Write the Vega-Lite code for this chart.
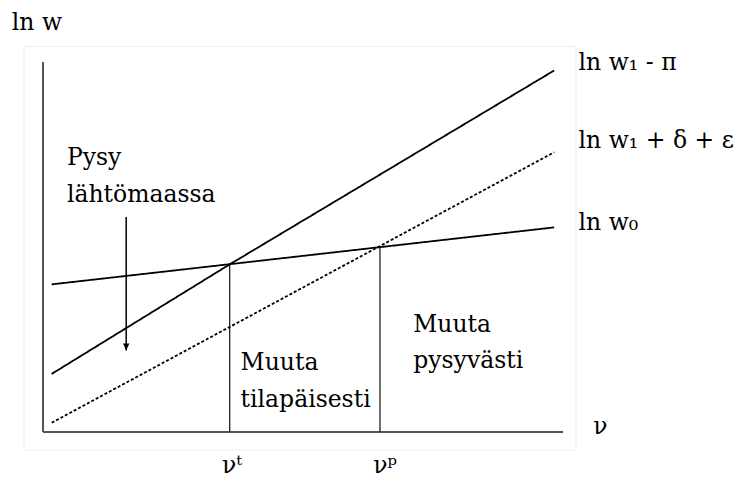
{
  "$schema": "https://vega.github.io/schema/vega-lite/v6.json",
  "width": 520,
  "height": 370,
  "autosize": {"type": "none"},
  "padding": {"left": 43, "top": 62, "right": 175, "bottom": 46},
  "background": "white",
  "config": {"view": {"stroke": null}},
  "datasets": {
    "frame": [{"x": -0.365, "y": -0.49, "x2": 10.25, "y2": 10.42}],
    "axes": [
      {"x": 0, "y": 0, "x2": 0, "y2": 10},
      {"x": 0, "y": 0, "x2": 10, "y2": 0}
    ],
    "drops": [
      {"x": 3.59, "y": 0, "y2": 4.53},
      {"x": 6.48, "y": 0, "y2": 4.99}
    ],
    "curves": [
      {"series": "ln w1 - pi", "x": 0.167, "y": 1.57},
      {"series": "ln w1 - pi", "x": 3.59, "y": 4.53},
      {"series": "ln w1 - pi", "x": 9.83, "y": 9.77},
      {"series": "ln w0", "x": 0.167, "y": 3.99},
      {"series": "ln w0", "x": 9.83, "y": 5.53},
      {"series": "ln w1 + delta + epsilon", "x": 0.167, "y": 0.25},
      {"series": "ln w1 + delta + epsilon", "x": 9.83, "y": 7.56}
    ],
    "arrow": [{"x": 1.6, "y": 5.81, "y2": 2.2}],
    "labels": [
      {"text": "ln w", "x": -0.6, "y": 10.87},
      {"text": "Pysy", "x": 0.46, "y": 7.22},
      {"text": "lähtömaassa", "x": 0.46, "y": 6.22},
      {"text": "Muuta", "x": 3.8, "y": 1.68},
      {"text": "tilapäisesti", "x": 3.8, "y": 0.68},
      {"text": "Muuta", "x": 7.12, "y": 2.71},
      {"text": "pysyvästi", "x": 7.12, "y": 1.72},
      {"text": "ν", "x": 10.58, "y": -0.05},
      {"text": "νᵗ", "x": 3.44, "y": -1.11},
      {"text": "νᵖ", "x": 6.35, "y": -1.11},
      {"text": "ln w₁ - π", "x": 10.3, "y": 9.78},
      {"text": "ln w₁ + δ + ε", "x": 10.3, "y": 7.67},
      {"text": "ln w₀", "x": 10.3, "y": 5.46}
    ]
  },
  "layer": [
    {
      "data": {"name": "frame"},
      "mark": {"type": "rect", "fill": null, "stroke": "#efefef", "strokeWidth": 1},
      "encoding": {
        "x": {"field": "x", "type": "quantitative", "scale": {"domain": [0, 10], "nice": false, "zero": false}, "axis": null},
        "y": {"field": "y", "type": "quantitative", "scale": {"domain": [0, 10], "nice": false, "zero": false}, "axis": null},
        "x2": {"field": "x2"},
        "y2": {"field": "y2"}
      }
    },
    {
      "data": {"name": "axes"},
      "mark": {"type": "rule", "color": "#555555", "strokeWidth": 2},
      "encoding": {
        "x": {"field": "x", "type": "quantitative"},
        "y": {"field": "y", "type": "quantitative"},
        "x2": {"field": "x2"},
        "y2": {"field": "y2"}
      }
    },
    {
      "data": {"name": "drops"},
      "mark": {"type": "rule", "color": "#222222", "strokeWidth": 1.3},
      "encoding": {
        "x": {"field": "x", "type": "quantitative"},
        "y": {"field": "y", "type": "quantitative"},
        "y2": {"field": "y2"}
      }
    },
    {
      "data": {"name": "curves"},
      "mark": {"type": "line", "color": "black", "strokeWidth": 1.8},
      "encoding": {
        "x": {"field": "x", "type": "quantitative"},
        "y": {"field": "y", "type": "quantitative"},
        "detail": {"field": "series"},
        "strokeDash": {
          "field": "series",
          "type": "nominal",
          "scale": {"domain": ["ln w1 - pi", "ln w0", "ln w1 + delta + epsilon"], "range": [[1, 0], [1, 0], [3, 2]]},
          "legend": null
        }
      }
    },
    {
      "data": {"name": "arrow"},
      "mark": {"type": "rule", "color": "black", "strokeWidth": 1.5},
      "encoding": {
        "x": {"field": "x", "type": "quantitative"},
        "y": {"field": "y", "type": "quantitative"},
        "y2": {"field": "y2"}
      }
    },
    {
      "data": {"name": "arrow"},
      "mark": {"type": "point", "shape": "M-0.45,-1L0.45,-1L0,0Z", "filled": true, "color": "black", "opacity": 1, "size": 196},
      "encoding": {
        "x": {"field": "x", "type": "quantitative"},
        "y": {"field": "y2", "type": "quantitative"}
      }
    },
    {
      "data": {"name": "labels"},
      "mark": {"type": "text", "align": "left", "baseline": "alphabetic", "font": "DejaVu Serif", "fontSize": 23.5, "color": "black"},
      "encoding": {
        "x": {"field": "x", "type": "quantitative"},
        "y": {"field": "y", "type": "quantitative"},
        "text": {"field": "text"}
      }
    }
  ]
}
